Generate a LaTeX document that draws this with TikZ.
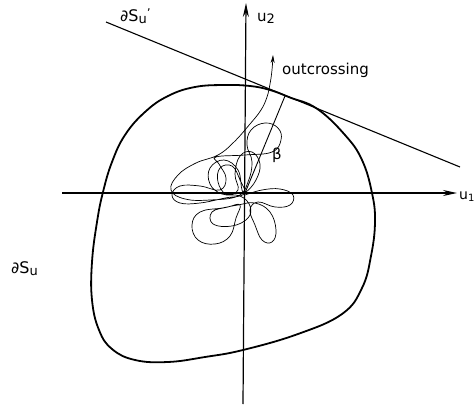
\documentclass[tikz,border=0pt]{standalone}
\usepackage{fontspec}
\setmainfont{DejaVu Sans}
\usetikzlibrary{arrows.meta}
\begin{document}
\begin{tikzpicture}[x=1pt,y=-1pt,
  axis/.style={line width=1.2pt,-{Stealth[length=14pt,width=6pt]}},
  bound/.style={line width=1.8pt},
  tline/.style={line width=1.1pt},
  traj/.style={line width=0.7pt},
  lbl/.style={font=\fontsize{15}{15}\selectfont, inner sep=0pt},
  blbl/.style={font=\fontsize{16}{16}\selectfont, inner sep=0pt}]
\useasboundingbox (0,0) rectangle (475,407);
% axes
\coordinate (xl) at (62,193);
\coordinate (xr) at (457,193);
\coordinate (yb) at (243,404);
\coordinate (yt) at (246,3);
\coordinate (O) at (245,193);
\draw[axis] (xl) -- (xr);
\draw[axis] (yb) -- (yt);
% tangent line
\coordinate (ta) at (106,22);
\coordinate (tb) at (460,167);
\draw[tline] (ta) -- (tb);
% beta line (perpendicular to tangent)
\coordinate (P) at (285,96);
\draw[line width=0.9pt] (O) -- (P);
% boundary
\draw[bound] plot[smooth cycle, tension=0.7] coordinates {
 (225,85) (250,86) (270,90) (290,97.5) (317,108.7) (345,135) (362,160)
 (372,193) (375,222) (371,256) (362,288) (342,314) (298,334) (243,350)
 (205,357) (168,362) (135,360) (112,349) (99,330) (92,300) (92,262) (97,222)
 (103,192) (112,162) (125,135) (145,112) (168,96) (195,87)};
% trajectory
\draw[traj,-{Stealth[length=8pt,width=4pt]}] plot[smooth, tension=0.7] coordinates {
 (245,195)
 (262,190) (280,189) (293,195) (290,205) (275,207) (258,202)
 (250,210) (255,225) (262,240) (272,242) (276,230) (270,212) (255,203)
 (238,205) (222,208) (200,212) (192,225) (198,240) (215,244) (230,236) (236,218) (240,205)
 (228,207) (212,212) (213,224) (232,226) (248,218) (250,206)
 (240,196) (222,194) (210,184) (210,168) (224,160) (238,170) (242,190)
 (246,192) (256,180) (260,164) (252,152) (240,156) (235,174) (238,190)
 (226,194) (218,182) (220,168) (232,166) (240,180) (244,194)
 (225,198) (200,203) (180,203) (172,195) (180,186) (200,186) (220,190)
 (226,178) (219,164) (216,157)
 (245,155) (272,152)
 (281,140) (278,128) (265,123) (251,130) (247,145) (252,162) (248,182) (238,196)
 (210,200) (185,199) (171,190) (178,175) (196,163) (218,155)
 (234,142) (250,124) (261,110) (267,97) (270,84) (272,70) (273,55)};
% labels
\node[lbl, anchor=base west] (lu2) at (257,21) {u\raisebox{-2pt}{\fontsize{13}{13}\selectfont 2}};
\node[font=\fontsize{14}{14}\selectfont, inner sep=0pt, anchor=base west] (lu1) at (459,199) {u\raisebox{-2pt}{\fontsize{10}{10}\selectfont 1}};
\node[lbl, anchor=base west] (lout) at (282,74) {outcrossing};
\node[lbl, anchor=center] (lbeta) at (277,155) {β};
\node[blbl, anchor=base west] (lsu) at (11,273) {∂S\raisebox{-2pt}{\fontsize{13}{13}\selectfont u}};
\node[blbl, anchor=base west] (lsup) at (120,21) {∂S\raisebox{-2pt}{\fontsize{13}{13}\selectfont u}\raisebox{4pt}{\fontsize{12}{12}\selectfont '}};
\end{tikzpicture}
\end{document}
